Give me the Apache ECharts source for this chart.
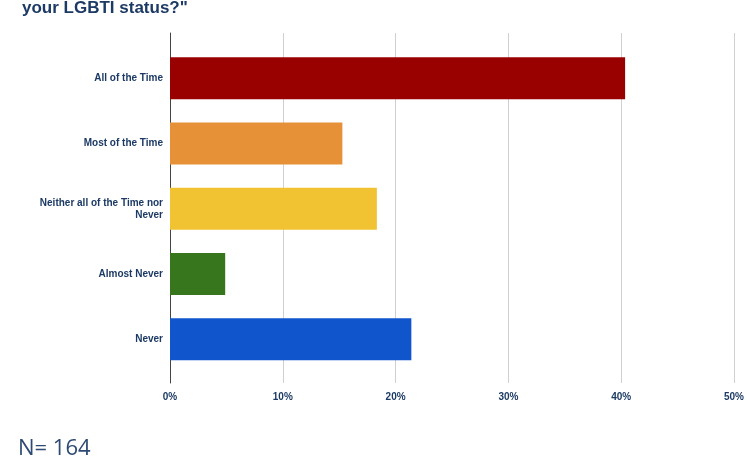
<!DOCTYPE html>
<html>
<head>
<meta charset="utf-8">
<script src="https://cdn.jsdelivr.net/npm/echarts@6/dist/echarts.min.js"></script>
<style>
  html, body { margin: 0; padding: 0; background: #fff; }
  #chart { width: 747px; height: 460px; }
</style>
</head>
<body>
<div id="chart"></div>
<script>
// Survey answers (share of respondents, %), N = 164
const categories = [
  'All of the Time',
  'Most of the Time',
  'Neither all of the Time nor Never',
  'Almost Never',
  'Never'
];
const percentages = [40.24, 15.24, 18.29, 4.88, 21.34];
const barColors = ['#990000', '#e69138', '#f1c232', '#38761d', '#1155cc'];
const xTicks = [0, 10, 20, 30, 40, 50];

const navy = '#1c3a64';
const chart = echarts.init(document.getElementById('chart'), null, { renderer: 'canvas' });

const xMin = xTicks[0];
const xMax = xTicks[xTicks.length - 1];
const xStep = xTicks[1] - xTicks[0];

// Word-wrap long category names so that no line has trailing spaces
function wrapLabel(text, maxChars) {
  const words = text.split(' ');
  const lines = [];
  let line = '';
  words.forEach(w => {
    const next = line ? line + ' ' + w : w;
    if (next.length > maxChars && line) {
      lines.push(line);
      line = w;
    } else {
      line = next;
    }
  });
  if (line) lines.push(line);
  return lines.join('\n');
}

chart.setOption({
  animation: false,
  grid: [
    // frame grid: gridlines, percent labels, baseline
    { left: 170, right: 11.5, top: 33, bottom: 77 },
    // bar grid
    { left: 170, right: 11.5, top: 45.5, bottom: 88 }
  ],
  xAxis: [
    {
      gridIndex: 0,
      type: 'value',
      min: xMin, max: xMax, interval: xStep,
      axisLine: { show: false },
      axisTick: { show: false },
      splitLine: { show: true, lineStyle: { color: '#d0d0d0', width: 1 } },
      axisLabel: {
        formatter: '{value}%',
        color: navy,
        fontFamily: 'Liberation Sans, Arial, sans-serif',
        fontWeight: 'bold',
        fontSize: 10,
        margin: 9
      }
    },
    {
      gridIndex: 1,
      type: 'value',
      min: xMin, max: xMax, interval: xStep,
      show: false
    }
  ],
  yAxis: [
    {
      gridIndex: 0,
      type: 'category',
      data: categories,
      inverse: true,
      axisLine: { show: true, lineStyle: { color: '#444444', width: 1 } },
      axisTick: { show: false },
      axisLabel: { show: false },
      splitLine: { show: false }
    },
    {
      gridIndex: 1,
      type: 'category',
      data: categories,
      inverse: true,
      axisLine: { show: false },
      axisTick: { show: false },
      splitLine: { show: false },
      axisLabel: {
        color: navy,
        fontFamily: 'Liberation Sans, Arial, sans-serif',
        fontWeight: 'bold',
        fontSize: 10,
        lineHeight: 12,
        margin: 7,
        align: 'right',
        formatter: v => wrapLabel(v, 28)
      }
    }
  ],
  series: [
    {
      type: 'bar',
      xAxisIndex: 1,
      yAxisIndex: 1,
      barWidth: 42,
      data: percentages.map((v, i) => ({ value: v, itemStyle: { color: barColors[i] } }))
    }
  ],
  graphic: [
    {
      type: 'text',
      left: 22,
      top: 0,
      style: {
        text: 'your LGBTI status?"',
        fill: navy,
        font: 'bold 17px "Liberation Sans", Arial, sans-serif'
      }
    },
    {
      type: 'text',
      left: 18,
      top: 438,
      style: {
        text: 'N= 164',
        fill: '#2e4a72',
        font: '22px "Open Sans", "Noto Sans", sans-serif'
      }
    }
  ]
});
</script>
</body>
</html>
